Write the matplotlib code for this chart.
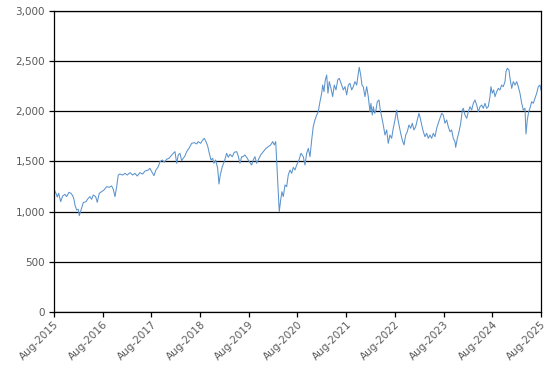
import numpy as np
import matplotlib
matplotlib.use("Agg")
import matplotlib.pyplot as plt

# time as decimal years (Aug-2015 = 2015.583)
years = [
    2015.583, 2015.624, 2015.651, 2015.680, 2015.721, 2015.762, 2015.809, 2015.844, 2015.891, 2015.932,
    2015.967, 2015.994, 2016.014, 2016.049, 2016.082, 2016.103, 2016.152, 2016.185, 2016.240, 2016.287,
    2016.322, 2016.357, 2016.390, 2016.439, 2016.472, 2016.513, 2016.562, 2016.610, 2016.665, 2016.719,
    2016.768, 2016.801, 2016.836, 2016.871, 2016.903, 2016.938, 2016.994, 2017.041, 2017.088, 2017.144,
    2017.199, 2017.246, 2017.293, 2017.349, 2017.404, 2017.452, 2017.519, 2017.554, 2017.589, 2017.636,
    2017.677, 2017.725, 2017.760, 2017.807, 2017.848, 2017.897, 2017.944, 2017.985, 2018.033, 2018.068,
    2018.103, 2018.135, 2018.170, 2018.205, 2018.238, 2018.273, 2018.308, 2018.355, 2018.411, 2018.464,
    2018.513, 2018.546, 2018.595, 2018.628, 2018.669, 2018.704, 2018.739, 2018.772, 2018.807, 2018.842,
    2018.868, 2018.903, 2018.944, 2018.971, 2018.998, 2019.039, 2019.080, 2019.129, 2019.162, 2019.197,
    2019.244, 2019.285, 2019.335, 2019.367, 2019.402, 2019.437, 2019.464, 2019.505, 2019.552, 2019.593,
    2019.643, 2019.675, 2019.710, 2019.745, 2019.778, 2019.827, 2019.881, 2019.936, 2019.984, 2020.033,
    2020.074, 2020.107, 2020.136, 2020.156, 2020.183, 2020.209, 2020.238, 2020.265, 2020.292, 2020.327,
    2020.361, 2020.394, 2020.429, 2020.464, 2020.497, 2020.532, 2020.567, 2020.614, 2020.655, 2020.702,
    2020.737, 2020.772, 2020.805, 2020.840, 2020.875, 2020.907, 2020.942, 2020.977, 2021.010, 2021.045,
    2021.080, 2021.101, 2021.127, 2021.154, 2021.183, 2021.209, 2021.236, 2021.271, 2021.306, 2021.339,
    2021.374, 2021.409, 2021.441, 2021.491, 2021.524, 2021.559, 2021.594, 2021.627, 2021.661, 2021.696,
    2021.729, 2021.764, 2021.799, 2021.832, 2021.852, 2021.881, 2021.908, 2021.934, 2021.969, 2022.004,
    2022.037, 2022.072, 2022.092, 2022.119, 2022.140, 2022.168, 2022.195, 2022.222, 2022.257, 2022.283,
    2022.312, 2022.345, 2022.380, 2022.415, 2022.447, 2022.482, 2022.517, 2022.550, 2022.585, 2022.620,
    2022.641, 2022.667, 2022.702, 2022.735, 2022.770, 2022.805, 2022.838, 2022.873, 2022.908, 2022.941,
    2022.975, 2023.010, 2023.043, 2023.078, 2023.105, 2023.134, 2023.167, 2023.201, 2023.236, 2023.269,
    2023.304, 2023.339, 2023.372, 2023.407, 2023.442, 2023.474, 2023.509, 2023.544, 2023.577, 2023.612,
    2023.647, 2023.680, 2023.715, 2023.749, 2023.782, 2023.817, 2023.832, 2023.865, 2023.900, 2023.935,
    2023.968, 2023.988, 2024.023, 2024.058, 2024.091, 2024.126, 2024.161, 2024.194, 2024.228, 2024.263,
    2024.296, 2024.331, 2024.366, 2024.398, 2024.433, 2024.468, 2024.501, 2024.536, 2024.556, 2024.583,
    2024.612, 2024.639, 2024.674, 2024.707, 2024.741, 2024.776, 2024.809, 2024.844, 2024.865, 2024.891,
    2024.926, 2024.947, 2024.982, 2025.015, 2025.050, 2025.085, 2025.117, 2025.152, 2025.187, 2025.220,
    2025.255, 2025.275, 2025.302, 2025.331, 2025.357, 2025.392, 2025.425, 2025.460, 2025.495, 2025.528,
    2025.562, 2025.583,
]
values = [
    1223, 1183, 1146, 1183, 1100, 1156, 1173, 1150, 1193, 1183,
    1160, 1123, 1066, 1017, 1023, 960, 1040, 1090, 1100, 1133,
    1150, 1123, 1166, 1150, 1093, 1183, 1200, 1216, 1249, 1243,
    1256, 1223, 1150, 1249, 1365, 1375, 1365, 1382, 1365, 1389,
    1365, 1382, 1355, 1389, 1375, 1405, 1415, 1432, 1399, 1359,
    1415, 1448, 1498, 1515, 1492, 1522, 1532, 1555, 1582, 1598,
    1482, 1565, 1582, 1508, 1532, 1555, 1598, 1631, 1681, 1688,
    1675, 1698, 1681, 1708, 1731, 1698, 1655, 1582, 1515, 1532,
    1482, 1515, 1432, 1276, 1365, 1448, 1498, 1582, 1542, 1572,
    1548, 1592, 1598, 1555, 1482, 1548, 1548, 1565, 1532, 1498,
    1465, 1515, 1548, 1482, 1515, 1565, 1598, 1631, 1648, 1665,
    1698, 1665, 1698, 1515, 1249, 1000, 1116, 1199, 1150, 1266,
    1249, 1365, 1415, 1382, 1442, 1415, 1465, 1515, 1582, 1548,
    1465, 1582, 1631, 1548, 1714, 1847, 1914, 1963, 1996, 2096,
    2180, 2262, 2196, 2312, 2362, 2180, 2296, 2230, 2146, 2262,
    2213, 2312, 2329, 2262, 2213, 2246, 2163, 2262, 2279, 2213,
    2246, 2296, 2262, 2379, 2439, 2362, 2262, 2246, 2146, 2246,
    2146, 1996, 2079, 1963, 2046, 1980, 2013, 2096, 2113, 2013,
    1947, 1864, 1764, 1814, 1681, 1764, 1731, 1831, 1914, 2013,
    1930, 1864, 1781, 1714, 1665, 1764, 1797, 1864, 1831, 1881,
    1814, 1847, 1914, 1980, 1930, 1864, 1797, 1747, 1781, 1731,
    1764, 1731, 1781, 1747, 1831, 1881, 1931, 1980, 1963, 1881,
    1914, 1847, 1797, 1814, 1731, 1698, 1641, 1731, 1797, 1881,
    2013, 2030, 1963, 1930, 1996, 2046, 2013, 2080, 2113, 2063,
    1996, 2046, 2063, 2030, 2080, 2030, 2046, 2146, 2246, 2180,
    2213, 2146, 2196, 2229, 2213, 2262, 2246, 2296, 2396, 2429,
    2412, 2329, 2229, 2296, 2262, 2296, 2246, 2180, 2080, 2013,
    2030, 1774, 1914, 1996, 2030, 2096, 2080, 2130, 2180, 2246,
    2262, 2213,
]

tick_years = [2015 + 7 / 12 + i for i in range(11)]
tick_labels = ["Aug-%d" % (2015 + i) for i in range(11)]
y_ticks = [0, 500, 1000, 1500, 2000, 2500, 3000]

fig = plt.figure(figsize=(5.48, 3.74), dpi=100)
ax = fig.add_axes([0.0985, 0.1658, 0.8887, 0.8048])

ax.plot(years, values, color="#5B93CC", linewidth=0.75)

ax.set_xlim(tick_years[0], tick_years[-1])
ax.set_ylim(0, 3000)
ax.set_yticks(y_ticks)
ax.set_yticklabels(["{:,}".format(v) for v in y_ticks])
ax.set_xticks(tick_years)
ax.set_xticklabels(tick_labels, rotation=45, ha="right", rotation_mode="anchor")

# black horizontal gridlines
ax.grid(axis="y", color="black", linewidth=0.9)
ax.set_axisbelow(True)

for side in ["left", "right", "top", "bottom"]:
    ax.spines[side].set_color("black")
    ax.spines[side].set_linewidth(0.9)

ax.tick_params(axis="both", colors="black", labelcolor="#595959", labelsize=7.5,
               length=3.5, width=0.9, direction="out")
ax.tick_params(axis="y", pad=3)
ax.tick_params(axis="x", pad=2)

fig.savefig("out.png", dpi=100)
